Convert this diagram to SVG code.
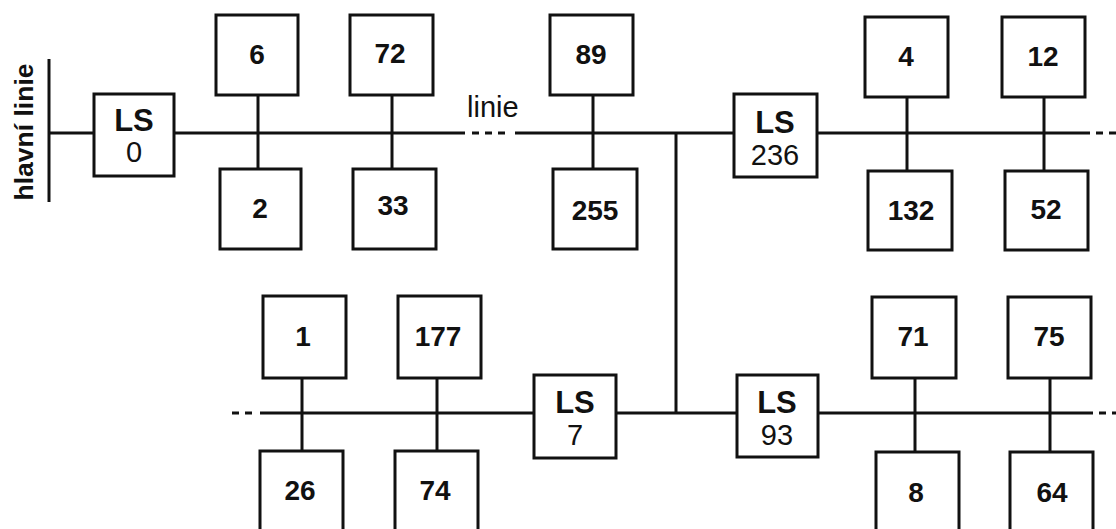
<svg xmlns="http://www.w3.org/2000/svg" width="1116" height="529" viewBox="0 0 1116 529">
<style>
.box{fill:#fff;stroke:#111;stroke-width:3}
.ln{stroke:#111;stroke-width:3;fill:none}
.dash{stroke:#111;stroke-width:3;fill:none;stroke-dasharray:7 6}
.num{font-family:"Liberation Sans",Arial,sans-serif;font-weight:bold;font-size:28px;fill:#111;text-anchor:middle}
.ls{font-family:"Liberation Sans",Arial,sans-serif;font-weight:bold;font-size:31px;fill:#111;text-anchor:middle}
.lsn{font-family:"Liberation Sans",Arial,sans-serif;font-weight:normal;font-size:29px;fill:#111;text-anchor:middle}
.lbl{font-family:"Liberation Sans",Arial,sans-serif;font-weight:normal;font-size:29px;fill:#111}
.main{font-family:"Liberation Sans",Arial,sans-serif;font-weight:bold;font-size:26.5px;fill:#111}
</style>
<rect width="1116" height="529" fill="#fff"/>
<g id="connectors">
<line class="ln" x1="49" y1="59" x2="49" y2="202"/>
<line class="ln" x1="49" y1="133" x2="94" y2="133"/>
<line class="ln" x1="174" y1="133" x2="465" y2="133"/>
<line class="dash" x1="472" y1="133" x2="510" y2="133"/>
<line class="ln" x1="515" y1="133" x2="734" y2="133"/>
<line class="ln" x1="817" y1="133" x2="1090" y2="133"/>
<line class="dash" x1="1096" y1="133" x2="1116" y2="133"/>
<line class="ln" x1="258" y1="95" x2="258" y2="169"/>
<line class="ln" x1="392" y1="95" x2="392" y2="169"/>
<line class="ln" x1="593" y1="95" x2="593" y2="169"/>
<line class="ln" x1="907" y1="97" x2="907" y2="171"/>
<line class="ln" x1="1044" y1="97" x2="1044" y2="171"/>
<line class="ln" x1="676" y1="133" x2="676" y2="413"/>
<line class="dash" x1="232" y1="413" x2="255" y2="413"/>
<line class="ln" x1="260" y1="413" x2="534" y2="413"/>
<line class="ln" x1="616" y1="413" x2="737" y2="413"/>
<line class="ln" x1="818" y1="413" x2="1093" y2="413"/>
<line class="dash" x1="1099" y1="413" x2="1116" y2="413"/>
<line class="ln" x1="302" y1="378" x2="302" y2="451"/>
<line class="ln" x1="437" y1="378" x2="437" y2="451"/>
<line class="ln" x1="915" y1="378" x2="915" y2="452"/>
<line class="ln" x1="1050" y1="378" x2="1050" y2="452"/>
</g>
<g id="labels">
<text class="main" transform="translate(33,132) rotate(-90)" text-anchor="middle">hlavní linie</text>
<text class="lbl" x="467" y="117">linie</text>
</g>
<g id="ls0"><rect class="box" x="94" y="94" width="80" height="82"/><text class="ls" x="134" y="131">LS</text><text class="lsn" x="134" y="162">0</text></g>
<g id="ls236"><rect class="box" x="734" y="94" width="83" height="83"/><text class="ls" x="775" y="133">LS</text><text class="lsn" x="775" y="165">236</text></g>
<g id="ls7"><rect class="box" x="534" y="375" width="82" height="83"/><text class="ls" x="575" y="413">LS</text><text class="lsn" x="575" y="445">7</text></g>
<g id="ls93"><rect class="box" x="737" y="375" width="81" height="82"/><text class="ls" x="777" y="413">LS</text><text class="lsn" x="777" y="445">93</text></g>
<g id="n6"><rect class="box" x="216" y="15" width="82" height="80"/><text class="num" x="257" y="64">6</text></g>
<g id="n72"><rect class="box" x="350" y="15" width="83" height="80"/><text class="num" x="390" y="63">72</text></g>
<g id="n89"><rect class="box" x="550" y="15" width="83" height="80"/><text class="num" x="591" y="64">89</text></g>
<g id="n4"><rect class="box" x="865" y="17" width="83" height="80"/><text class="num" x="906" y="66">4</text></g>
<g id="n12"><rect class="box" x="1002" y="17" width="83" height="80"/><text class="num" x="1043" y="66">12</text></g>
<g id="n2"><rect class="box" x="220" y="169" width="81" height="80"/><text class="num" x="260" y="218">2</text></g>
<g id="n33"><rect class="box" x="353" y="169" width="83" height="80"/><text class="num" x="393" y="215">33</text></g>
<g id="n255"><rect class="box" x="553" y="169" width="84" height="80"/><text class="num" x="595" y="220">255</text></g>
<g id="n132"><rect class="box" x="868" y="171" width="84" height="79"/><text class="num" x="911" y="220">132</text></g>
<g id="n52"><rect class="box" x="1005" y="171" width="83" height="79"/><text class="num" x="1046" y="219">52</text></g>
<g id="n1"><rect class="box" x="263" y="296" width="83" height="82"/><text class="num" x="303" y="346">1</text></g>
<g id="n177"><rect class="box" x="398" y="296" width="83" height="82"/><text class="num" x="438" y="346">177</text></g>
<g id="n71"><rect class="box" x="872" y="297" width="84" height="81"/><text class="num" x="913" y="346">71</text></g>
<g id="n75"><rect class="box" x="1008" y="297" width="83" height="81"/><text class="num" x="1049" y="346">75</text></g>
<g id="n26"><rect class="box" x="260" y="451" width="83" height="85"/><text class="num" x="300" y="500">26</text></g>
<g id="n74"><rect class="box" x="395" y="451" width="83" height="85"/><text class="num" x="435" y="500">74</text></g>
<g id="n8"><rect class="box" x="876" y="452" width="83" height="85"/><text class="num" x="916" y="502">8</text></g>
<g id="n64"><rect class="box" x="1010" y="452" width="83" height="85"/><text class="num" x="1052" y="502">64</text></g>
</svg>
